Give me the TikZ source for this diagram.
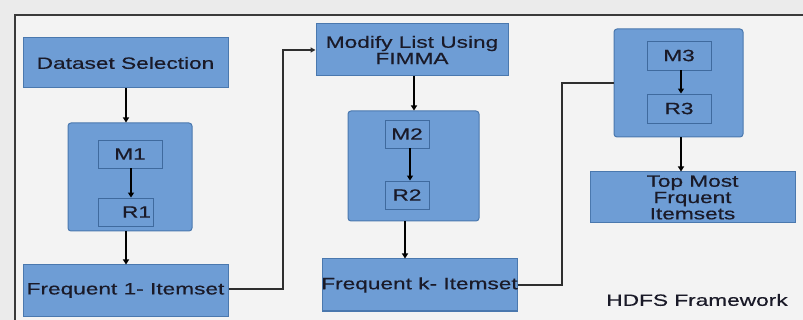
\documentclass[tikz,border=0pt]{standalone}
\usepackage{fontspec}
\usetikzlibrary{arrows.meta}
\newfontfamily\boxfont[FakeStretch=1.39,FakeBold=0.5]{Liberation Sans}
\definecolor{pagebg}{HTML}{EBEBEB}
\definecolor{framebg}{HTML}{F3F3F3}
\definecolor{framecol}{HTML}{3A3A3A}
\definecolor{boxfill}{HTML}{6E9DD5}
\definecolor{boxline}{HTML}{4A78AE}
\definecolor{innerline}{HTML}{3F6A9E}
\definecolor{txt}{HTML}{1A1A28}
\definecolor{wire}{HTML}{2E2E2E}
\tikzset{
  lbl/.style={font=\boxfont\fontsize{16.3}{16.3}\selectfont, text=txt, align=center},
  block/.style={lbl, draw=boxline, fill=boxfill, line width=1pt, inner sep=0pt},
  group/.style={draw=boxline, fill=boxfill, line width=1pt, rounded corners=3pt, inner sep=0pt},
  task/.style={lbl, draw=innerline, line width=0.9pt, inner sep=0pt},
  arr/.style={draw=black, line width=1.4pt, -{Triangle[length=5pt,width=6pt]}},
  link/.style={draw=wire, line width=1.2pt}
}
\begin{document}
\begin{tikzpicture}[x=1pt,y=-1pt]
  % page and framed area
  \fill[pagebg] (0,0) rectangle (803,320);
  \useasboundingbox (0,0) rectangle (803,320);
  \fill[framebg] (15,15) rectangle (803,320);
  \draw[framecol, line width=1.5pt] (15,320) -- (15,15) -- (803,15);

  % first stage
  \node[block, minimum width=205pt, minimum height=50pt] (ds) at (125.5,63) {Dataset Selection};
  \node[group, minimum width=124pt, minimum height=108pt] (g1) at (130,177) {};
  \node[task, minimum width=64pt, minimum height=28pt] (m1) at (130,154) {M1};
  \node[task, minimum width=55pt, minimum height=28pt] (r1) at (125.5,212) {\hspace*{22pt}R1};
  \node[block, minimum width=205pt, minimum height=51pt] (f1) at (125.5,290.5) {\makebox[0pt]{Frequent 1- Itemset}};

  % second stage
  \node[block, minimum width=192pt, minimum height=52pt] (mod) at (412,50) {Modify List Using\\FIMMA};
  \node[group, minimum width=131pt, minimum height=110pt] (g2) at (413.5,166) {};
  \node[task, minimum width=44pt, minimum height=28pt] (m2) at (407,134) {M2};
  \node[task, minimum width=44pt, minimum height=28pt] (r2) at (407,195) {R2};
  \node[block, minimum width=195pt, minimum height=52pt] (fk) at (419.5,285) {\makebox[0pt]{Frequent k- Itemset}};

  % third stage
  \node[group, minimum width=129pt, minimum height=108pt] (g3) at (678.5,83) {};
  \node[task, minimum width=64pt, minimum height=29pt] (m3) at (679,55.5) {M3};
  \node[task, minimum width=64pt, minimum height=29pt] (r3) at (679,108.5) {R3};
  \node[block, minimum width=205pt, minimum height=51pt] (tm) at (692.5,197.5) {Top Most\\Frquent\\Itemsets};

  \node[lbl] (hdfs) at (697,300) {HDFS Framework};

  % flow inside the stages
  \draw[arr] ([xshift=0.5pt]ds.south) -- ([xshift=-4pt]g1.north);
  \draw[arr] ([xshift=1pt]m1.south) -- ([xshift=5.5pt]r1.north);
  \draw[arr] ([xshift=-4pt]g1.south) -- ([xshift=0.5pt]f1.north);
  \draw[arr] ([xshift=2pt]mod.south) -- ([xshift=0.5pt]g2.north);
  \draw[arr] ([xshift=3pt]m2.south) -- ([xshift=3pt]r2.north);
  \draw[arr] ([xshift=-8.5pt]g2.south) -- ([xshift=-14.5pt]fk.north);
  \draw[arr] ([xshift=2pt]m3.south) -- ([xshift=2pt]r3.north);
  \draw[arr] ([xshift=2.5pt]g3.south) -- ([xshift=-11.5pt]tm.north);

  % links between the stages
  \coordinate (k1) at (283,0);
  \coordinate (k2) at (562,0);
  \draw[link, -{Triangle[length=5pt,width=5pt]}] ([yshift=1.5pt]f1.east) -- ([yshift=1.5pt]f1.east -| k1) -- (k1 |- mod.west) -- (mod.west);
  \draw[link] (fk.east) -- (fk.east -| k2) -- (k2 |- g3.west) -- (g3.west);
\end{tikzpicture}
\end{document}
